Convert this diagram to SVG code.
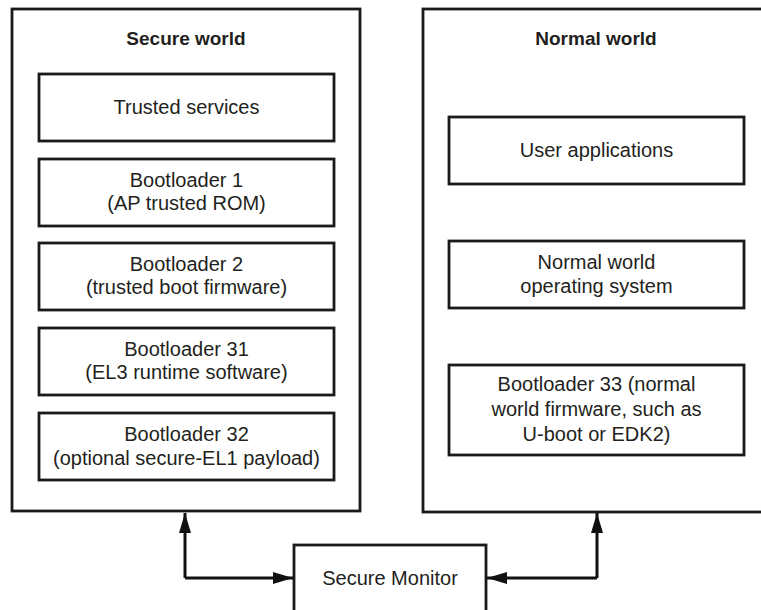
<svg xmlns="http://www.w3.org/2000/svg" width="761" height="610" viewBox="0 0 761 610">
<defs>
<style>
.box{fill:#fff;stroke:#1a1a1a;stroke-width:2.8}
.t{font-family:"Liberation Sans",Arial,sans-serif;font-size:20px;fill:#231f20;text-anchor:middle}
.title{font-weight:bold;font-size:19px}
.con{fill:none;stroke:#111;stroke-width:3}
</style>
<marker id="ah" markerWidth="20" markerHeight="12" refX="20" refY="6" orient="auto" markerUnits="userSpaceOnUse">
<path d="M0,0 L20,6 L0,12 Z" fill="#111"/>
</marker>
</defs>
<rect width="761" height="610" fill="#fff"/>
<g id="secure-world">
<rect class="box" x="12" y="9" width="348" height="502"/>
<text class="t title" x="186" y="45">Secure world</text>
</g>
<g id="normal-world">
<rect class="box" x="423" y="9" width="360" height="503"/>
<text class="t title" x="596" y="45">Normal world</text>
</g>
<g id="trusted-services">
<rect class="box" x="39" y="74" width="295" height="67"/>
<text class="t" x="186.5" y="114">Trusted services</text>
</g>
<g id="bootloader-1">
<rect class="box" x="39" y="159" width="295" height="67"/>
<text class="t" x="186.5" y="187">Bootloader 1</text>
<text class="t" x="186.5" y="210">(AP trusted ROM)</text>
</g>
<g id="bootloader-2">
<rect class="box" x="39" y="243" width="295" height="67"/>
<text class="t" x="186.5" y="271">Bootloader 2</text>
<text class="t" x="186.5" y="294">(trusted boot firmware)</text>
</g>
<g id="bootloader-31">
<rect class="box" x="39" y="328" width="295" height="67"/>
<text class="t" x="186.5" y="356">Bootloader 31</text>
<text class="t" x="186.5" y="379">(EL3 runtime software)</text>
</g>
<g id="bootloader-32">
<rect class="box" x="39" y="413" width="295" height="67"/>
<text class="t" x="186.5" y="441">Bootloader 32</text>
<text class="t" x="186.5" y="465">(optional secure-EL1 payload)</text>
</g>
<g id="user-applications">
<rect class="box" x="449" y="117" width="295" height="67"/>
<text class="t" x="596.5" y="157">User applications</text>
</g>
<g id="normal-os">
<rect class="box" x="449" y="241" width="295" height="67"/>
<text class="t" x="596.5" y="269">Normal world</text>
<text class="t" x="596.5" y="293">operating system</text>
</g>
<g id="bootloader-33">
<rect class="box" x="449" y="365" width="295" height="90"/>
<text class="t" x="596.5" y="391">Bootloader 33 (normal</text>
<text class="t" x="596.5" y="416">world firmware, such as</text>
<text class="t" x="596.5" y="441">U-boot or EDK2)</text>
</g>
<g id="secure-monitor">
<rect class="box" x="294" y="545" width="192" height="80"/>
<text class="t" x="390" y="585">Secure Monitor</text>
</g>
<g id="connectors">
<path class="con" d="M185,578 L185,513" marker-end="url(#ah)"/>
<path class="con" d="M185,578 L293,578" marker-end="url(#ah)"/>
<path class="con" d="M597,578 L597,513" marker-end="url(#ah)"/>
<path class="con" d="M597,578 L487,578" marker-end="url(#ah)"/>
</g>
</svg>
